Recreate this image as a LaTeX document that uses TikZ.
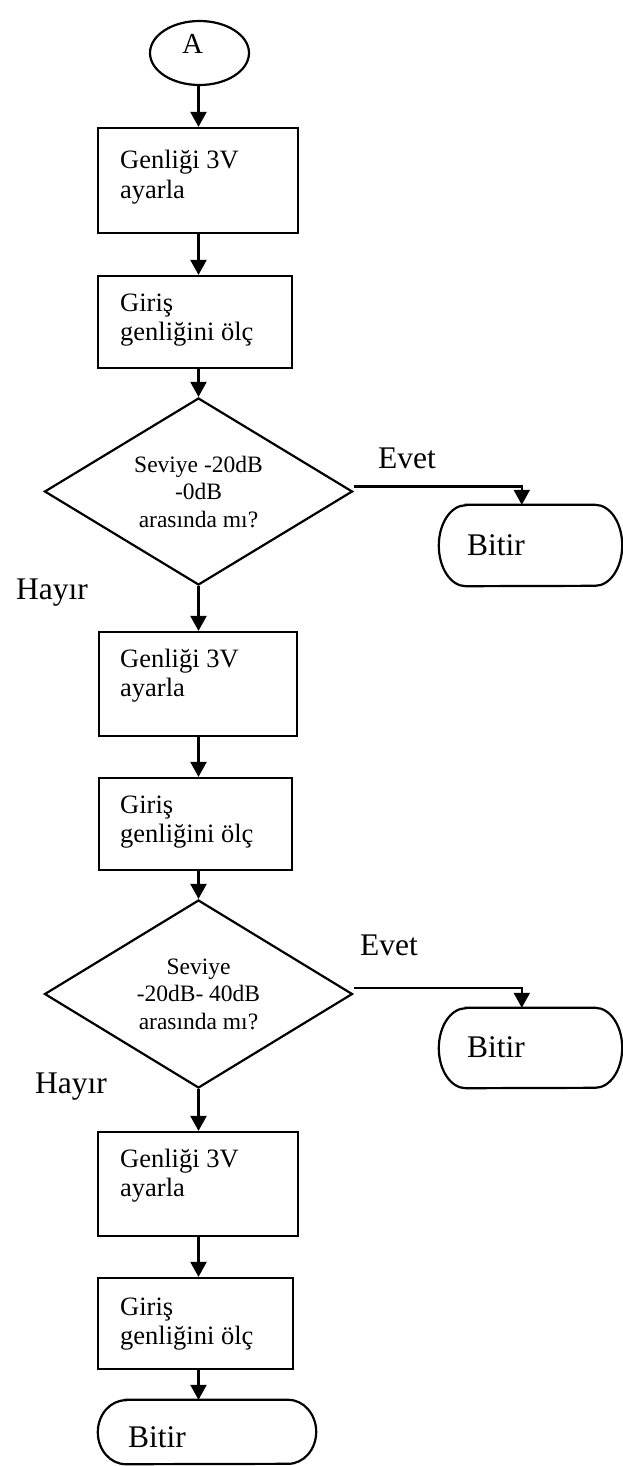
\documentclass[tikz,border=0pt]{standalone}
\usepackage{fontspec}
\setmainfont{Liberation Serif}
\usetikzlibrary{arrows.meta,shapes.geometric,calc}

% font size / baseline skip shortcut
\newcommand\fsz[2]{\fontsize{#1}{#2}\selectfont}

% flowchart terminator outline around a (borderless) node: name, x radius, y radius
\newcommand\terminator[3]{%
  \draw[line] ([xshift=#2]#1.north west) -- ([xshift=-#2]#1.north east)
    arc[start angle=90,end angle=-90,x radius=#2,y radius=#3]
    -- ([xshift=#2]#1.south west)
    arc[start angle=270,end angle=90,x radius=#2,y radius=#3] -- cycle;}

\tikzset{
  line/.style={line width=2.2pt, black},
  arr/.style={line, -{Triangle[width=16pt,length=15pt]}},
  box/.style={draw, line width=2.2pt, rectangle, inner sep=0pt},
  decision/.style={draw, line width=2.2pt, diamond, inner sep=0pt,
    minimum width=308pt},
  startnode/.style={draw, line width=2.2pt, ellipse, inner sep=0pt,
    minimum width=99pt, minimum height=64pt},
  term/.style={rectangle, inner sep=0pt, draw=none},
  boxtext/.style={anchor=base west, inner sep=0pt, font=\fsz{26.5}{29.5}},
  dtext/.style={anchor=base, inner sep=0pt, font=\fsz{23.5}{27.5}},
  bigtext/.style={anchor=base west, inner sep=0pt, font=\fsz{31.5}{36}},
}

\begin{document}
\begin{tikzpicture}[x=1pt,y=-1pt]
\useasboundingbox (0,0) rectangle (622,1466);
\coordinate (axis) at (198.5,0);

% start connector
\node[startnode] (a) at (199.5,53) {};
\node[anchor=base west, inner sep=0pt, font=\fsz{29}{32}] (alabel) at (182,54) {A};

% first block
\node[box, minimum width=200pt, minimum height=105pt] (b1) at (198,180.5) {};
\node[boxtext] (b1t) at (120,169) {\vtop{\hbox{Genliği 3V}\hbox{ayarla}}};
\node[box, minimum width=194pt, minimum height=92pt] (b2) at (195,322) {};
\node[boxtext] (b2t) at (120,311) {\vtop{\hbox{Giriş}\hbox{genliğini ölç}}};

\node[decision, minimum height=187pt] (d1) at (198.5,491.5) {};
\node[dtext] (d1t) at (198.5,472) {\vtop{\hbox to 0pt{\hss Seviye -20dB\hss}\hbox to 0pt{\hss -0dB\hss}\hbox to 0pt{\hss arasında mı?\hss}}};

\node[term, minimum width=183pt, minimum height=81pt] (t1) at (530.5,545.5) {};
\terminator{t1}{27pt}{40.5pt}
\node[bigtext] (t1t) at (467,555) {Bitir};
\node[bigtext] (e1) at (378,468) {Evet};
\node[bigtext] (h1) at (16,599) {Hayır};

% second block
\node[box, minimum width=198pt, minimum height=104pt] (b3) at (198,684) {};
\node[boxtext] (b3t) at (120,667) {\vtop{\hbox{Genliği 3V}\hbox{ayarla}}};
\node[box, minimum width=193pt, minimum height=92pt] (b4) at (195.5,824) {};
\node[boxtext] (b4t) at (120,813) {\vtop{\hbox{Giriş}\hbox{genliğini ölç}}};

\node[decision, minimum height=188pt] (d2) at (198.5,994) {};
\node[dtext] (d2t) at (198.5,974) {\vtop{\hbox to 0pt{\hss Seviye\hss}\hbox to 0pt{\hss -20dB- 40dB\hss}\hbox to 0pt{\hss arasında mı?\hss}}};

\node[term, minimum width=183pt, minimum height=80pt] (t2) at (530.5,1048) {};
\terminator{t2}{27pt}{40pt}
\node[bigtext] (t2t) at (467,1057) {Bitir};
\node[bigtext] (e2) at (360,955) {Evet};
\node[bigtext] (h2) at (35,1093) {Hayır};

% third block
\node[box, minimum width=200pt, minimum height=104pt] (b5) at (198,1184) {};
\node[boxtext] (b5t) at (120,1167) {\vtop{\hbox{Genliği 3V}\hbox{ayarla}}};
\node[box, minimum width=195pt, minimum height=91pt] (b6) at (195.5,1323.5) {};
\node[boxtext] (b6t) at (120,1315) {\vtop{\hbox{Giriş}\hbox{genliğini ölç}}};

\node[term, minimum width=218pt, minimum height=64pt] (t3) at (207,1432) {};
\terminator{t3}{28pt}{32pt}
\node[bigtext] (t3t) at (128,1447) {Bitir};

% main flow
\draw[arr] (a.south -| axis) -- (b1.north -| axis);
\draw[arr] (b1.south -| axis) -- (b2.north -| axis);
\draw[arr] (b2.south -| axis) -- (d1.north);
\draw[arr] (d1.south) -- (b3.north -| axis);
\draw[arr] (b3.south -| axis) -- (b4.north -| axis);
\draw[arr] (b4.south -| axis) -- (d2.north);
\draw[arr] (d2.south) -- (b5.north -| axis);
\draw[arr] (b5.south -| axis) -- (b6.north -| axis);
\draw[arr] (b6.south -| axis) -- (t3.north -| axis);

% "yes" branches
\draw[arr] ($(d1.east)+(0,-5)$) -| ($(t1.north west)+(83,0)$);
\draw[arr] ($(d2.east)+(0,-6)$) -| ($(t2.north west)+(83,0)$);
\end{tikzpicture}
\end{document}
